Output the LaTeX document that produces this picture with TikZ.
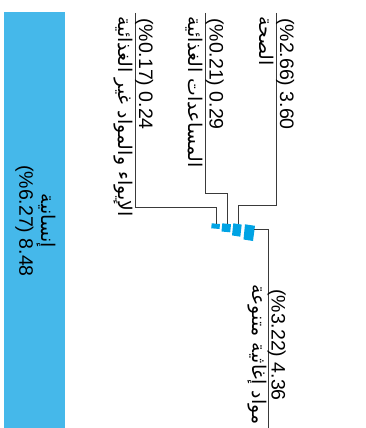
\documentclass[tikz,border=0pt]{standalone}
\usepackage{fontspec}
\setmainfont{Liberation Sans}
\newfontfamily\arabicfont[Script=Arabic]{DejaVu Sans}
\TeXXeTstate=1
\definecolor{barblue}{HTML}{45B8EA}
\definecolor{blockblue}{HTML}{00A3E4}
\definecolor{linegray}{HTML}{3A3A3A}
\begin{document}
\begin{tikzpicture}[x=1pt,y=-1pt,
  conn/.style={draw=linegray,line width=0.8pt},
  numtxt/.style={rotate=-90,anchor=base west,inner sep=0pt,font=\fontsize{19.5}{22}\selectfont},
  artxt/.style={rotate=-90,anchor=north west,inner sep=0pt,font=\arabicfont\fontsize{18.9}{21}\selectfont},
  blk/.style={fill=blockblue,draw=none}]
\useasboundingbox (0,0) rectangle (366,428);
% big bar
\fill[barblue] (4,12) rectangle (65,428);
\node[rotate=-90,align=center,inner sep=0pt,font=\fontsize{19.5}{22}\selectfont] (bar) at (35.5,221)
  {{\arabicfont\fontsize{18.9}{20}\selectfont\beginR إنسانية\endR}\\(\%6.27) 8.48};
% blocks
\fill[blk] (211.7,223.3) -- (220,224) -- (219.5,229) -- (211.2,228.3) -- cycle;
\fill[blk] (222.3,223.3) -- (231,224.2) -- (230.2,232.3) -- (221.5,231.5) -- cycle;
\fill[blk] (233.3,223.3) -- (241.7,224.6) -- (240.3,236.7) -- (232,235.4) -- cycle;
\fill[blk] (245,224.3) -- (255,225.8) -- (253,241) -- (243.5,239.5) -- cycle;
\coordinate (b1) at (216,223.6);
\coordinate (b2) at (227,223.8);
\coordinate (b3) at (238,224);
\coordinate (b4) at (254.3,229);
% group tops
\coordinate (t1) at (276,13);
\coordinate (t2) at (205.5,13);
\coordinate (t3) at (135,13);
\coordinate (e4) at (268.5,428);
% connectors
\draw[conn] (t1) |- (238,205) -- (b3);
\draw[conn] (t2) |- (227,193.5) -- (b2);
\draw[conn] (t3) |- (216,207) -- (b1);
\draw[conn] (b4) -| (e4);
% labels
\node[numtxt] (n1) at (280,18) {(\%2.66) 3.60};
\node[artxt] (a1) at (274,16) {\beginR الصحة\endR};
\node[numtxt] (n2) at (209.5,18) {(\%0.21) 0.29};
\node[artxt] (a2) at (203.5,16) {\beginR المساعدات الغذائية\endR};
\node[numtxt] (n3) at (139,18) {(\%0.17) 0.24};
\node[artxt] (a3) at (133,16) {\beginR الإيواء والمواد غير الغذائية\endR};
\node[numtxt] (n4) at (271.5,289) {(\%3.22) 4.36};
\node[artxt] (a4) at (267,284) {\beginR مواد إغاثية متنوعة\endR};
\end{tikzpicture}
\end{document}
